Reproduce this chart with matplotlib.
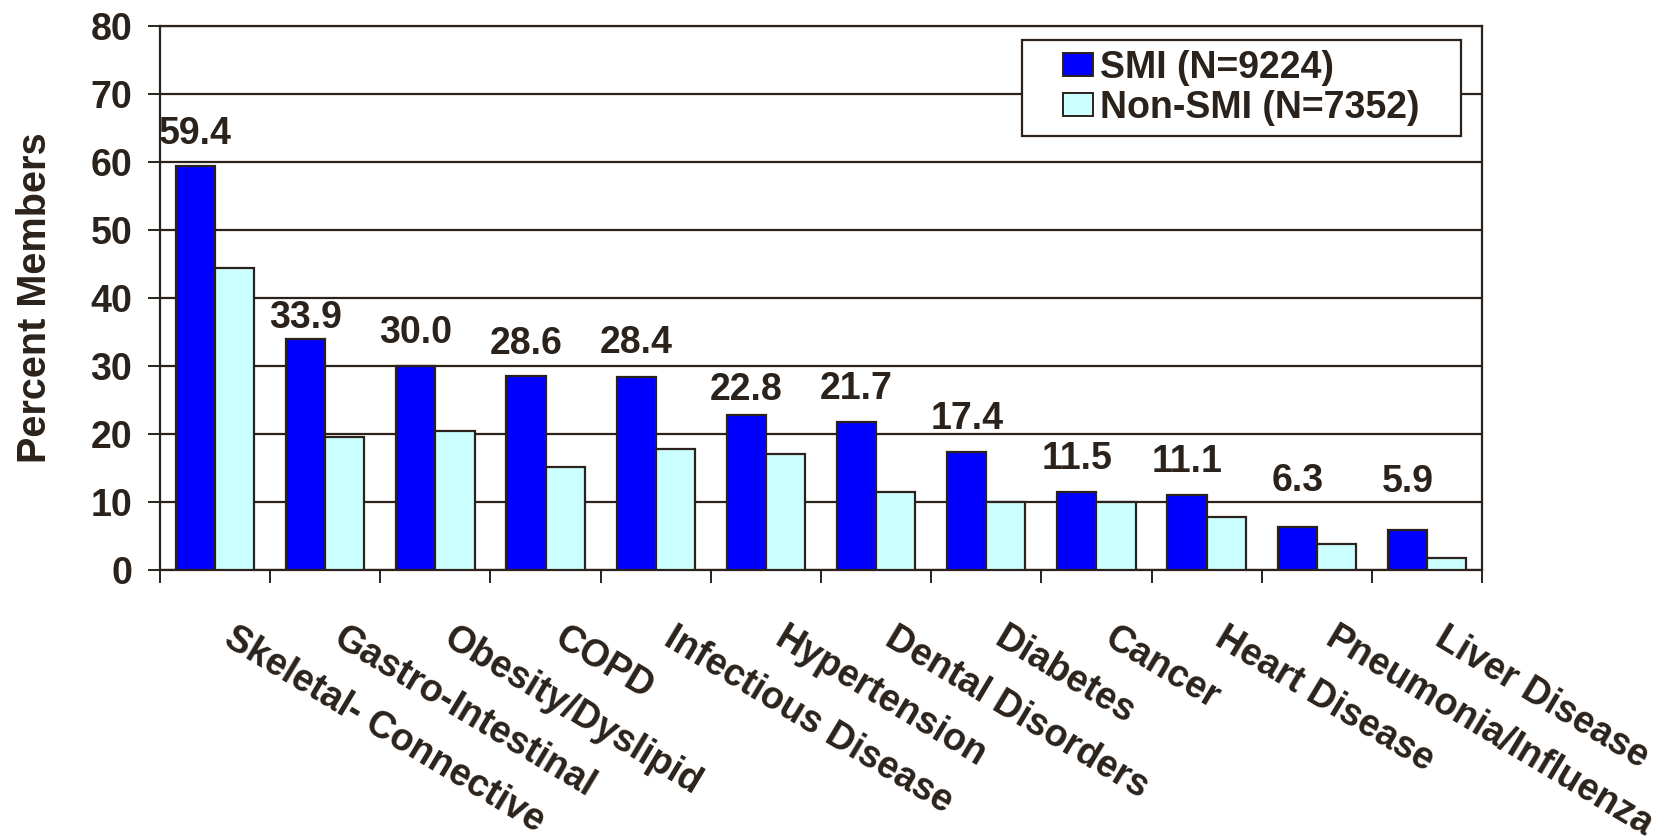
import numpy as np
import matplotlib
matplotlib.use("Agg")
import matplotlib.pyplot as plt
from matplotlib.patches import Rectangle
from matplotlib.legend_handler import HandlerPatch
from matplotlib.transforms import ScaledTranslation

categories = [
    "Skeletal- Connective", "Gastro-Intestinal", "Obesity/Dyslipid", "COPD",
    "Infectious Disease", "Hypertension", "Dental Disorders", "Diabetes",
    "Cancer", "Heart Disease", "Pneumonia/Influenza", "Liver Disease",
]
smi = [59.4, 33.9, 30.0, 28.6, 28.4, 22.8, 21.7, 17.4, 11.5, 11.1, 6.3, 5.9]
non_smi = [44.4, 19.6, 20.5, 15.2, 17.8, 17.1, 11.4, 10.0, 10.0, 7.8, 3.8, 1.7]
series_labels = ["SMI (N=9224)", "Non-SMI (N=7352)"]
y_ticks = [0, 10, 20, 30, 40, 50, 60, 70, 80]

# gap (points) between each SMI bar top and the baseline of its value label
label_gap_pt = [16, 8.1, 16.6, 15.8, 17, 10.8, 16.6, 16.6, 16.6, 16, 26, 27.4]

INK = "#2a221b"
FONT = "Liberation Sans"
FS = 27

plt.rcParams["font.family"] = [FONT, "DejaVu Sans"]
plt.rcParams["font.weight"] = "bold"

fig = plt.figure(figsize=(16.66, 8.39), dpi=100)
ax = fig.add_axes([160 / 1666, 1 - 570 / 839, (1482 - 160) / 1666, (570 - 26) / 839])

x = np.arange(len(categories))
w = 0.355
b1 = ax.bar(x - w / 2, smi, w, color="#0000ff", edgecolor=INK, linewidth=1.6,
            zorder=3, label=series_labels[0])
b2 = ax.bar(x + w / 2, non_smi, w, color="#ccffff", edgecolor=INK, linewidth=1.6,
            zorder=3, label=series_labels[1])

for xi, v, gap in zip(x - w / 2, smi, label_gap_pt):
    ax.annotate(f"{v:.1f}", (xi, v), xytext=(0, gap), textcoords="offset points",
                ha="center", va="baseline", fontsize=FS, fontweight="bold",
                color=INK, zorder=4)

ax.set_xlim(-0.5, len(categories) - 0.5)
ax.set_ylim(0, 80)
ax.set_yticks(y_ticks)
ax.yaxis.grid(True, color=INK, linewidth=1.6, zorder=0)
ax.set_axisbelow(True)

for s in ax.spines.values():
    s.set_color(INK)
    s.set_linewidth(1.6)

ax.tick_params(axis="y", direction="out", length=9, width=1.4, color=INK,
               pad=11, labelsize=FS, labelcolor=INK)

# category labels at the centres, tick marks at the category boundaries
ax.set_xticks(x)
ax.set_xticks(np.arange(len(categories) + 1) - 0.5, minor=True)
ax.tick_params(axis="x", which="major", length=0, pad=36, labelsize=FS,
               labelcolor=INK)
ax.tick_params(axis="x", which="minor", direction="out", length=9, width=1.4,
               color=INK)
ax.set_xticklabels(categories, rotation=-31, ha="left", va="top",
                   rotation_mode="anchor", fontweight="bold")
shift = ScaledTranslation(0.21, 0, fig.dpi_scale_trans)
for lab in ax.get_xticklabels():
    lab.set_transform(lab.get_transform() + shift)

ax.set_ylabel("Percent Members", fontsize=28.5, fontweight="bold", color=INK,
              labelpad=26)

# legend: white framed box in the upper right
box = Rectangle((1022 / 1666, 1 - 136 / 839), 439 / 1666, 96 / 839,
                transform=fig.transFigure, facecolor="white", edgecolor=INK,
                linewidth=1.6, zorder=4)
fig.patches.append(box)


def square(legend, orig_handle, xdescent, ydescent, width, height, fontsize):
    sw, sh = 30 * 0.72, 23 * 0.72
    return Rectangle((width - sw - xdescent, -ydescent + (height - sh) / 2), sw, sh)


h1, h2 = b1.patches[0], b2.patches[0]
leg = fig.legend(handles=[h1, h2], labels=series_labels, loc="center",
                 bbox_to_anchor=((1022 + 439 / 2) / 1666, 1 - 88 / 839),
                 frameon=False,
                 prop={"family": FONT, "weight": "bold", "size": FS},
                 handlelength=0.8, handleheight=0.6, handletextpad=0.2,
                 labelspacing=0.1, borderpad=0.0,
                 handler_map={Rectangle: HandlerPatch(patch_func=square)})
leg.set_zorder(5)
for t in leg.get_texts():
    t.set_color(INK)
for h in leg.legend_handles:
    h.set_edgecolor(INK)
    h.set_linewidth(1.4)

fig.savefig("out.png", dpi=100, facecolor="white")
